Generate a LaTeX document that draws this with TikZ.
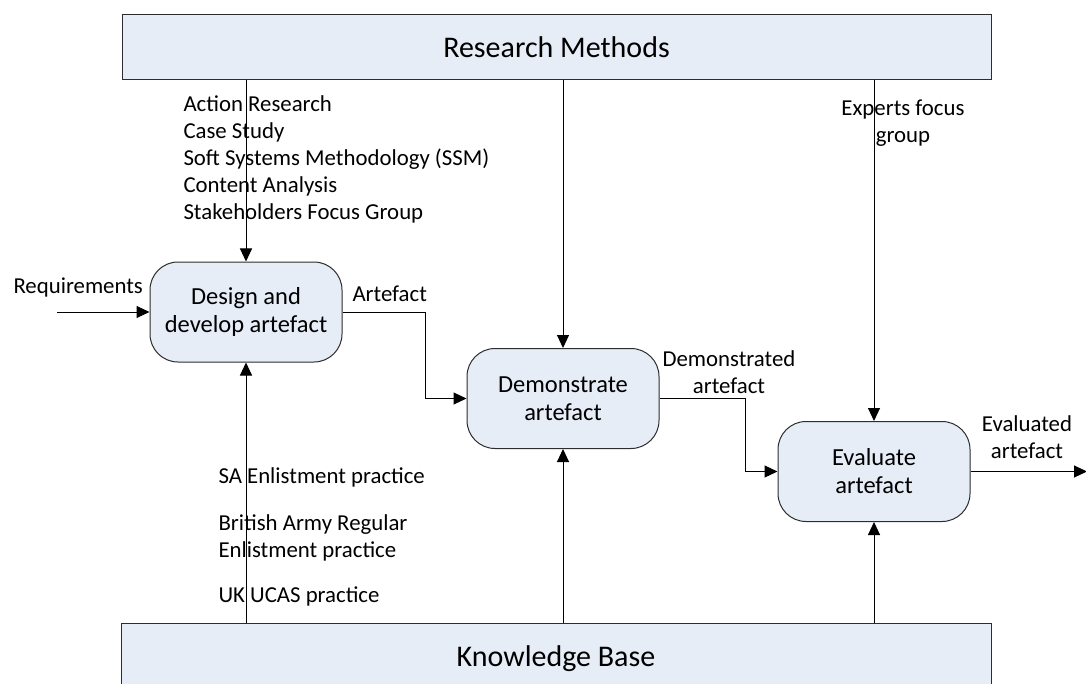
\documentclass[tikz,border=0pt]{standalone}
\usepackage{fontspec}
\setmainfont{Carlito}
\usetikzlibrary{arrows.meta,positioning,calc}
\definecolor{boxfill}{RGB}{230,237,247}
\definecolor{edge}{RGB}{45,45,45}

\begin{document}
\begin{tikzpicture}[x=0.5pt,y=-0.5pt,>={Triangle[length=6.5pt,width=6pt]},line width=0.5pt,
   band/.style={draw=edge,fill=boxfill,inner sep=0pt,font=\fontsize{15}{18}\selectfont},
   stage/.style={draw=edge,fill=boxfill,rounded corners=14pt,minimum width=96pt,minimum height=50pt,
     inner sep=0pt,align=center,font=\fontsize{12.25}{14}\selectfont},
   lbl/.style={inner sep=0pt,font=\fontsize{11.4}{13.5}\selectfont}]
  \useasboundingbox (0,0) rectangle (1086,684);
  \clip (0,0) rectangle (1088,684);

  % bands
  \node[band,minimum width=434.5pt,minimum height=32.5pt] (rm) at (556.5,47.5) {Research Methods};
  \node[band,minimum width=435pt,minimum height=36pt] (kb) at (556,659) {Knowledge Base};

  % stages
  \node[stage] (design) at (246,312)   {Design and\\develop artefact};
  \node[stage] (demo)   at (563,398.5) {Demonstrate\\artefact};
  \node[stage] (eval)   at (874,471.5) {Evaluate\\artefact};

  % free ends
  \coordinate (req) at (57,312);
  \coordinate (out) at (1087,471.5);

  % connectors
  \draw[->] (rm.south -| design.north) -- (design.north);
  \draw[->] (rm.south -| demo.north) -- (demo.north);
  \draw[->] (rm.south -| eval.north) -- (eval.north);
  \draw[->] (kb.north -| design.south) -- (design.south);
  \draw[->] (kb.north -| demo.south) -- (demo.south);
  \draw[->] (kb.north -| eval.south) -- (eval.south);
  \draw[->] (req) -- (design.west);
  \draw[->] (design.east) -- +(83,0) |- (demo.west);
  \draw[->] (demo.east) -- +(86,0) |- (eval.west);
  \draw[->] (eval.east) -- (out);

  % labels (base = last line)
  \node[lbl,align=left,anchor=base west] (methods) at (183,220)
    {Action Research\\Case Study\\Soft Systems Methodology (SSM)\\Content Analysis\\Stakeholders Focus Group};
  \node[lbl,anchor=base west] (reqlbl) at (13,293) {Requirements};
  \node[lbl,anchor=base west] (artlbl) at (352,301) {Artefact};
  \node[lbl,align=center,anchor=base] (demolbl) at (729,393) {Demonstrated\\artefact};
  \node[lbl,align=center,anchor=base] (evallbl) at (1027,458) {Evaluated\\artefact};
  \node[lbl,align=center,anchor=base] (experts) at (903,143) {Experts focus\\group};
  \node[lbl,anchor=base west] (sa) at (218,483) {SA Enlistment practice};
  \node[lbl,align=left,anchor=base west] (british) at (218,557) {British Army Regular\\Enlistment practice};
  \node[lbl,anchor=base west] (ucas) at (218,602) {UK UCAS practice};
\end{tikzpicture}
\end{document}
